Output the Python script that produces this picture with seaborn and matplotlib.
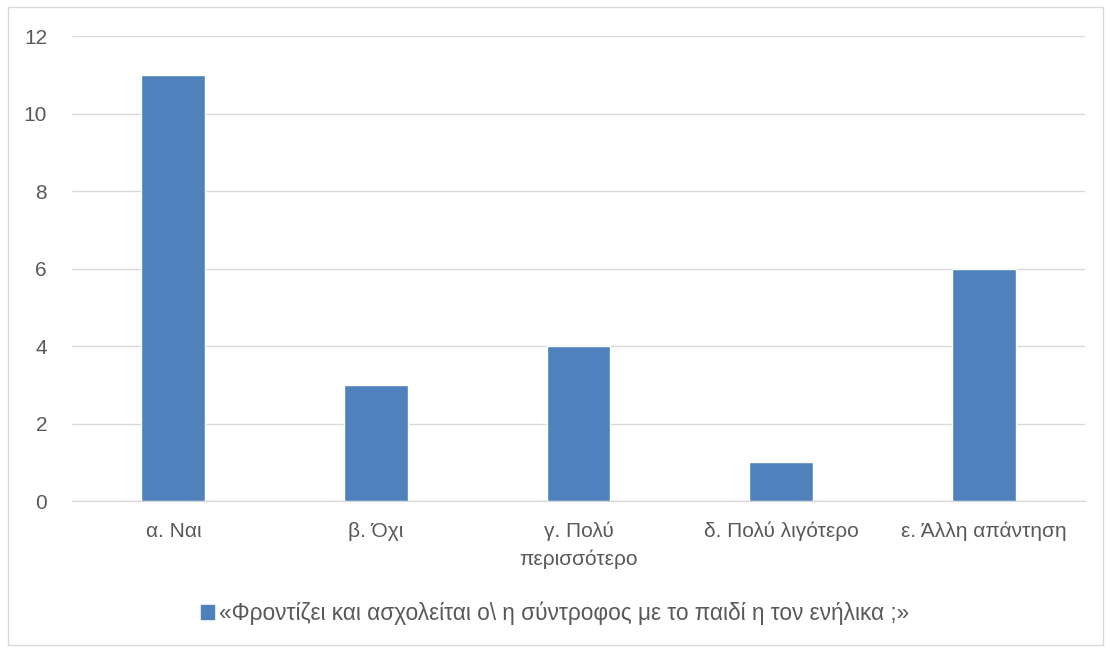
import pandas as pd
import seaborn as sns
import matplotlib.pyplot as plt
from matplotlib.patches import Rectangle

categories = ['α. Ναι', 'β. Όχι', 'γ. Πολύ\nπερισσότερο', 'δ. Πολύ λιγότερο', 'ε. Άλλη απάντηση']
counts = [11, 3, 4, 1, 6]
series_name = '«Φροντίζει και ασχολείται ο\\ η σύντροφος με το παιδί η τον ενήλικα ;»'
yticks = [0, 2, 4, 6, 8, 10, 12]

df = pd.DataFrame({'category': categories, 'count': counts})

sns.set_theme(style='white')
plt.rcParams['font.family'] = ['Liberation Sans', 'DejaVu Sans']

fig = plt.figure(figsize=(11.1, 6.49), dpi=100)
ax = fig.add_axes([0.0649, 0.228, 0.9126, 0.7165])

bar_color = '#4F81BD'
sns.barplot(data=df, x='category', y='count', color=bar_color, width=0.315,
            saturation=1, ax=ax, zorder=3)

ax.set_ylim(0, 12)
ax.set_yticks(yticks)
ax.grid(axis='y', color='#d9d9d9', linewidth=1, zorder=0)
for s in ['top', 'right', 'left']:
    ax.spines[s].set_visible(False)
ax.spines['bottom'].set_color('#d9d9d9')
ax.spines['bottom'].set_linewidth(1)
ax.set_xlabel('')
ax.set_ylabel('')
ax.tick_params(axis='both', colors='#595959', labelsize=15, length=0)
ax.tick_params(axis='x', pad=15)
ax.tick_params(axis='y', pad=18)
for lbl in ax.get_xticklabels():
    lbl.set_linespacing(1.55)

handle = Rectangle((0, 0), 1, 1, color=bar_color)
fig.legend([handle], [series_name], loc='center', bbox_to_anchor=(0.5, 0.055),
           frameon=False, fontsize=16.3, handlelength=0.6, handleheight=0.6,
           handletextpad=0.2, labelcolor='#595959')

fig.patches.append(Rectangle((8 / 1110, 4 / 649), 1095 / 1110, 638 / 649,
                             transform=fig.transFigure, fill=False,
                             edgecolor='#d9d9d9', linewidth=1))

fig.savefig('out.png', dpi=100, facecolor='white')
